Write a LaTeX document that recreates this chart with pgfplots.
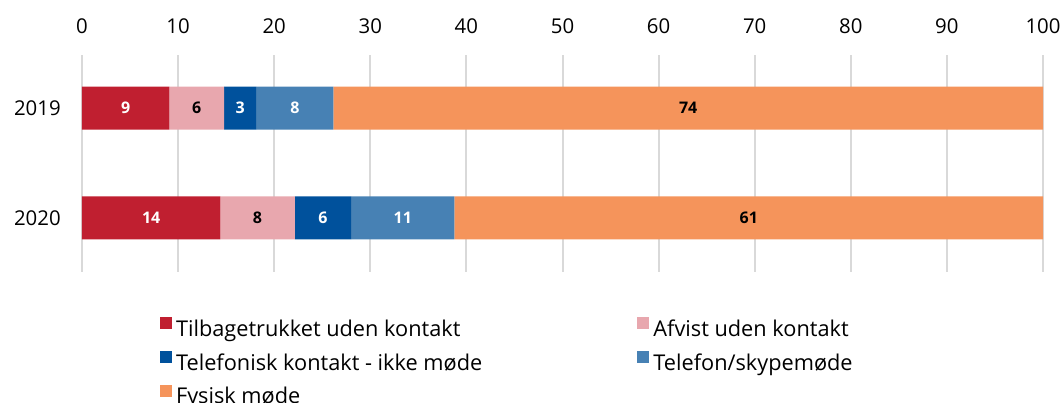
\documentclass[border=0pt]{standalone}
\usepackage{pgfplots}
\pgfplotsset{compat=1.18}
\usepackage{fontspec}
\setmainfont{Open Sans}
\definecolor{cRed}{HTML}{C01F30}
\definecolor{cPink}{HTML}{E8A7AE}
\definecolor{cDark}{HTML}{00519C}
\definecolor{cBlue}{HTML}{4781B4}
\definecolor{cOrange}{HTML}{F5945B}
\definecolor{cGrid}{HTML}{D9D9D9}
\begin{document}
\begin{tikzpicture}
\path[use as bounding box] (0,0) rectangle (797.25pt,302.25pt);
\begin{axis}[
  at={(61.5pt,98.25pt)}, anchor=south west,
  scale only axis, width=720.75pt, height=162.75pt,
  xbar stacked, bar width=32.25pt,
  xmin=0, xmax=100, xtick={0,10,...,100},
  ymin=-0.482, ymax=1.491, y dir=reverse,
  ytick={0,1}, yticklabels={2019,2020},
  xticklabel pos=upper,
  axis line style={draw=none},
  major tick length=0pt,
  xmajorgrids, major grid style={cGrid, line width=1.5pt},
  ticklabel shift=15.75pt,
  every tick label/.append style={inner sep=0pt, font=\fontsize{15.3pt}{18pt}\selectfont},
  xticklabel style={anchor=south},
  yticklabel style={anchor=east},
  /pgf/number format/assume math mode=true,
  point meta=explicit symbolic,
  nodes near coords,
  every node near coord/.append style={font=\fontsize{12pt}{14pt}\selectfont\bfseries},
  legend image code/.code={\fill[#1,draw=none] (0pt,1.2pt) rectangle (9pt,10.2pt);},
  legend columns=2,
  legend cell align=left,
  legend style={draw=none, fill=none, inner sep=0pt, outer sep=0pt,
    at={(0.0812,-0.208)}, anchor=north west,
    font=\fontsize{16.3pt}{19pt}\selectfont,
    nodes={inner sep=0pt, text height=12pt, text depth=4pt},
    row sep=7.25pt,
    /tikz/every odd column/.append style={column sep=3pt}},
]
\addplot[fill=cRed, draw=none, every node near coord/.append style={text=white}] table[x=v, y=c, meta=l] {
c v l
0 9.08 9
1 14.39 14
};
\addlegendentry{\makebox[346pt][l]{Tilbagetrukket uden kontakt}}
\addplot[fill=cPink, draw=none, every node near coord/.append style={text=black}] table[x=v, y=c, meta=l] {
c v l
0 5.71 6
1 7.75 8
};
\addlegendentry{Afvist uden kontakt}
\addplot[fill=cDark, draw=none, every node near coord/.append style={text=white}] table[x=v, y=c, meta=l] {
c v l
0 3.34 3
1 5.86 6
};
\addlegendentry{\makebox[346pt][l]{Telefonisk kontakt - ikke møde}}
\addplot[fill=cBlue, draw=none, every node near coord/.append style={text=white}] table[x=v, y=c, meta=l] {
c v l
0 8.03 8
1 10.76 11
};
\addlegendentry{Telefon/skypemøde}
\addplot[fill=cOrange, draw=none, every node near coord/.append style={text=black}] table[x=v, y=c, meta=l] {
c v l
0 73.84 74
1 61.24 61
};
\addlegendentry{\makebox[346pt][l]{Fysisk møde}}
\end{axis}
\end{tikzpicture}
\end{document}
